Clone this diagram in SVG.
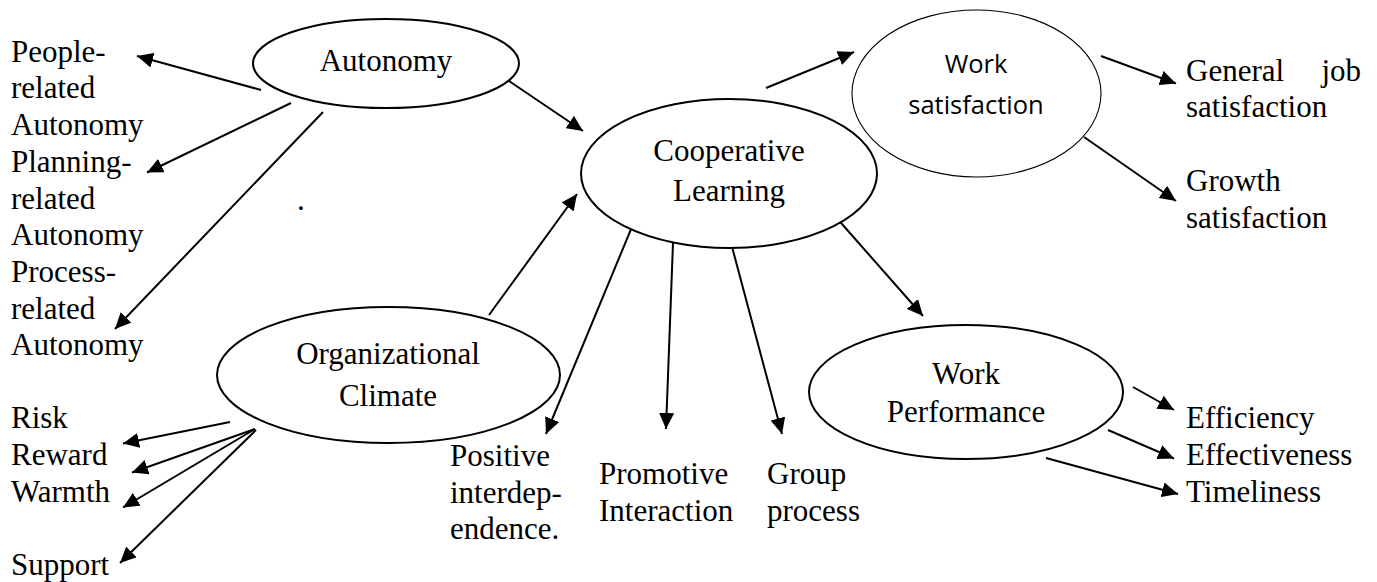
<svg xmlns="http://www.w3.org/2000/svg" width="1377" height="582" viewBox="0 0 1377 582">
  <style>
    .bg { fill: #ffffff; }
    .node { fill: #ffffff; stroke: #000000; stroke-width: 2; }
    .node.thin { stroke-width: 1.1; }
    .t { font-family: "Liberation Serif", "Times New Roman", serif; font-size: 31px; fill: #000000; }
    .c { text-anchor: middle; }
    .s { font-family: "Open Sans", "Noto Sans", sans-serif; font-size: 25.5px; fill: #000000; text-anchor: middle; }
    .edge { stroke: #000000; stroke-width: 2; fill: none; marker-end: url(#arrow); }
  </style>
  <defs>
    <marker id="arrow" viewBox="0 0 16 15" refX="16" refY="7.5" markerWidth="16" markerHeight="15" markerUnits="userSpaceOnUse" orient="auto">
      <path d="M0,0 L16,7.5 L0,15 z" fill="#000000"/>
    </marker>
  </defs>
  <rect class="bg" x="0" y="0" width="1377" height="582"/>

  <!-- connectors -->
  <g id="connectors">
    <line class="edge" x1="261" y1="90" x2="137" y2="56"/>
    <line class="edge" x1="291" y1="103" x2="147" y2="172.5"/>
    <line class="edge" x1="323" y1="112" x2="115" y2="329"/>
    <line class="edge" x1="509" y1="81" x2="583" y2="131"/>
    <line class="edge" x1="489" y1="315" x2="577" y2="194"/>
    <line class="edge" x1="634" y1="222" x2="546" y2="434"/>
    <line class="edge" x1="673" y1="243" x2="666" y2="429"/>
    <line class="edge" x1="731" y1="243" x2="782" y2="434"/>
    <line class="edge" x1="827" y1="207" x2="923" y2="316"/>
    <line class="edge" x1="766" y1="88" x2="854" y2="52"/>
    <line class="edge" x1="1101" y1="56" x2="1176" y2="83.5"/>
    <line class="edge" x1="1084" y1="137" x2="1176" y2="201"/>
    <line class="edge" x1="1133" y1="387" x2="1174" y2="410"/>
    <line class="edge" x1="1108" y1="430" x2="1174" y2="458.5"/>
    <line class="edge" x1="1046" y1="458" x2="1178" y2="494"/>
    <line class="edge" x1="230" y1="422" x2="123" y2="443.5"/>
    <line class="edge" x1="255" y1="429" x2="132" y2="472.5"/>
    <line class="edge" x1="255" y1="429" x2="123" y2="507.5"/>
    <line class="edge" x1="256" y1="430" x2="120" y2="563"/>
  </g>

  <!-- latent constructs -->
  <g id="autonomy">
    <ellipse class="node" cx="386" cy="63.5" rx="133" ry="44.5"/>
    <text class="t c" x="386" y="71">Autonomy</text>
  </g>
  <g id="cooperative-learning">
    <ellipse class="node" cx="729" cy="173.5" rx="148" ry="74.5"/>
    <text class="t c" x="729" y="161">Cooperative</text>
    <text class="t c" x="729" y="201">Learning</text>
  </g>
  <g id="work-satisfaction">
    <ellipse class="node thin" cx="976.5" cy="93.5" rx="124.5" ry="83.5"/>
    <text class="s" x="976" y="73">Work</text>
    <text class="s" x="976" y="114">satisfaction</text>
  </g>
  <g id="organizational-climate">
    <ellipse class="node" cx="388.5" cy="375" rx="171.5" ry="68"/>
    <text class="t c" x="388" y="364">Organizational</text>
    <text class="t c" x="388" y="406">Climate</text>
  </g>
  <g id="work-performance">
    <ellipse class="node" cx="966" cy="392" rx="157" ry="67"/>
    <text class="t c" x="966" y="384">Work</text>
    <text class="t c" x="966" y="421.5">Performance</text>
  </g>

  <!-- autonomy dimensions -->
  <g id="autonomy-dimensions">
    <text class="t" x="11" y="61.7">People-</text>
    <text class="t" x="11" y="98.4">related</text>
    <text class="t" x="11" y="135.1">Autonomy</text>
    <text class="t" x="11" y="171.8">Planning-</text>
    <text class="t" x="11" y="208.5">related</text>
    <text class="t" x="11" y="245.2">Autonomy</text>
    <text class="t" x="11" y="281.9">Process-</text>
    <text class="t" x="11" y="318.6">related</text>
    <text class="t" x="11" y="355.3">Autonomy</text>
  </g>
  <text class="t" x="297" y="210">.</text>

  <!-- climate dimensions -->
  <g id="climate-dimensions">
    <text class="t" x="11" y="428">Risk</text>
    <text class="t" x="11" y="465">Reward</text>
    <text class="t" x="11" y="502">Warmth</text>
    <text class="t" x="11" y="575">Support</text>
  </g>

  <!-- cooperative learning elements -->
  <g id="positive-interdependence">
    <text class="t" x="450" y="466">Positive</text>
    <text class="t" x="450" y="502.5">interdep-</text>
    <text class="t" x="450" y="538.5">endence.</text>
  </g>
  <g id="promotive-interaction">
    <text class="t" x="599" y="484">Promotive</text>
    <text class="t" x="599" y="521">Interaction</text>
  </g>
  <g id="group-process">
    <text class="t" x="767" y="484">Group</text>
    <text class="t" x="767" y="521">process</text>
  </g>

  <!-- satisfaction facets -->
  <g id="general-job-satisfaction">
    <text class="t" x="1186" y="80.7">General</text>
    <text class="t" x="1361" y="80.7" text-anchor="end">job</text>
    <text class="t" x="1186" y="117">satisfaction</text>
  </g>
  <g id="growth-satisfaction">
    <text class="t" x="1186" y="191">Growth</text>
    <text class="t" x="1186" y="227.7">satisfaction</text>
  </g>

  <!-- performance facets -->
  <g id="performance-facets">
    <text class="t" x="1186" y="428">Efficiency</text>
    <text class="t" x="1186" y="465">Effectiveness</text>
    <text class="t" x="1186" y="502">Timeliness</text>
  </g>
</svg>
